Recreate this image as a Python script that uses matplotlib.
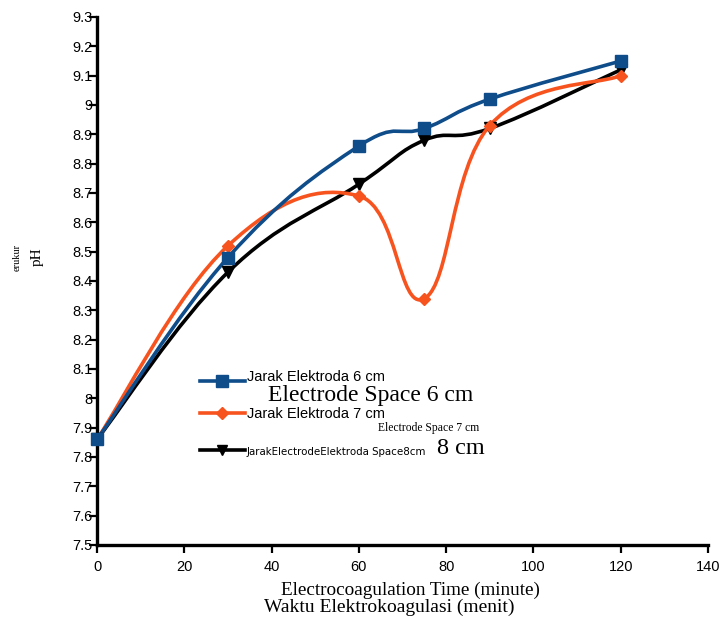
import matplotlib
matplotlib.use("Agg")
import matplotlib.pyplot as plt
from matplotlib.path import Path
from matplotlib.patches import PathPatch
from matplotlib.lines import Line2D

# data
time_min = [0, 30, 60, 75, 90, 120]
ph_6cm = [7.86, 8.48, 8.86, 8.92, 9.02, 9.15]
ph_7cm = [7.86, 8.52, 8.69, 8.34, 8.93, 9.10]
ph_8cm = [7.86, 8.43, 8.73, 8.88, 8.92, 9.12]

xticks = [0, 20, 40, 60, 80, 100, 120, 140]
yticks = [7.5, 7.6, 7.7, 7.8, 7.9, 8.0, 8.1, 8.2, 8.3, 8.4, 8.5, 8.6, 8.7, 8.8, 8.9, 9.0, 9.1, 9.2, 9.3]
ytick_labels = ["7.5", "7.6", "7.7", "7.8", "7.9", "8", "8.1", "8.2", "8.3", "8.4",
                "8.5", "8.6", "8.7", "8.8", "8.9", "9", "9.1", "9.2", "9.3"]

BLUE = "#0f4c8a"
ORANGE = "#f7531f"
BLACK = "#000000"
SERIF = ["Liberation Serif", "DejaVu Serif"]
SANS = ["Liberation Sans", "DejaVu Sans"]

W, H = 725, 619
TENSION = 0.2  # a bit looser than plain Catmull-Rom, like Excel's smoothed lines


def smooth_path(xs, ys):
    # smoothed line: Catmull-Rom style segments as cubic Beziers
    pts = list(zip(xs, ys))
    verts = [pts[0]]
    codes = [Path.MOVETO]
    n = len(pts)
    for i in range(n - 1):
        p0 = pts[i - 1] if i > 0 else pts[i]
        p1 = pts[i]
        p2 = pts[i + 1]
        p3 = pts[i + 2] if i + 2 < n else pts[i + 1]
        c1 = (p1[0] + (p2[0] - p0[0]) * TENSION, p1[1] + (p2[1] - p0[1]) * TENSION)
        c2 = (p2[0] - (p3[0] - p1[0]) * TENSION, p2[1] - (p3[1] - p1[1]) * TENSION)
        verts += [c1, c2, p2]
        codes += [Path.CURVE4] * 3
    return Path(verts, codes)


fig = plt.figure(figsize=(W / 100, H / 100), dpi=100)
ax = fig.add_axes([97 / W, 1 - 545 / H, (708 - 97) / W, (545 - 17) / H])

series = [(ph_8cm, BLACK, "v", 8), (ph_7cm, ORANGE, "D", 6.5), (ph_6cm, BLUE, "s", 9)]
for z, (ys, col, mk, ms) in enumerate(series):
    ax.add_patch(PathPatch(smooth_path(time_min, ys), fill=False, ec=col, lw=2.6,
                           capstyle="round", joinstyle="round", zorder=2 + z))
    ax.plot(time_min, ys, ls="none", marker=mk, ms=ms, color=col, zorder=5 + z, clip_on=False)

ax.set_xlim(0, 140)
ax.set_ylim(7.5, 9.3)
ax.set_xticks(xticks)
ax.set_yticks(yticks)
ax.set_yticklabels(ytick_labels)
for s in ("top", "right"):
    ax.spines[s].set_visible(False)
for s in ("left", "bottom"):
    ax.spines[s].set_linewidth(2.4)
ax.tick_params(axis="y", direction="out", length=6, width=1.6, pad=-3, labelsize=10.5)
ax.tick_params(axis="x", direction="out", length=6, width=1.6, pad=5, labelsize=10.5)
for lab in ax.get_xticklabels() + ax.get_yticklabels():
    lab.set_family(SANS)

# axis titles
fig.text(17 / W, 1 - 257 / H, "erukur", rotation=90, ha="center", va="center",
         fontsize=7.5, family=SERIF)
fig.text(37 / W, 1 - 257 / H, "pH", rotation=90, ha="center", va="center",
         fontsize=11, family=SERIF)
fig.text(410 / W, 1 - 590 / H, "Electrocoagulation Time (minute)", ha="center", va="center",
         fontsize=13.8, family=SERIF)
fig.text(389 / W, 1 - 607 / H, "Waktu Elektrokoagulasi (menit)", ha="center", va="center",
         fontsize=14, family=SERIF)

# legend drawn by hand
leg = [(381, BLUE, "s", 8), (413, ORANGE, "D", 6), (450, BLACK, "v", 7)]
for yy, col, mk, ms in leg:
    fig.add_artist(Line2D([200 / W, 245 / W], [1 - yy / H] * 2, color=col, lw=2.6,
                          transform=fig.transFigure))
    fig.add_artist(Line2D([222 / W], [1 - yy / H], color=col, marker=mk, ms=ms, ls="none",
                          transform=fig.transFigure))

fig.text(247 / W, 1 - 377 / H, "Jarak Elektroda 6 cm", ha="left", va="center",
         fontsize=10.5, family=SANS)
fig.text(268 / W, 1 - 395 / H, "Electrode Space 6 cm", ha="left", va="center",
         fontsize=17, family=SERIF)
fig.text(247 / W, 1 - 414 / H, "Jarak Elektroda 7 cm", ha="left", va="center",
         fontsize=10.5, family=SANS)
fig.text(378 / W, 1 - 428 / H, "Electrode Space 7 cm", ha="left", va="center",
         fontsize=8.4, family=SERIF)
fig.text(247 / W, 1 - 452 / H, "JarakElectrodeElektroda Space8cm", ha="left", va="center",
         fontsize=8.2, family=["Liberation Sans Narrow", "DejaVu Sans"], stretch="condensed")
fig.text(437 / W, 1 - 449 / H, "8 cm", ha="left", va="center",
         fontsize=17.5, family=SERIF)

fig.savefig("out.png", dpi=100)
